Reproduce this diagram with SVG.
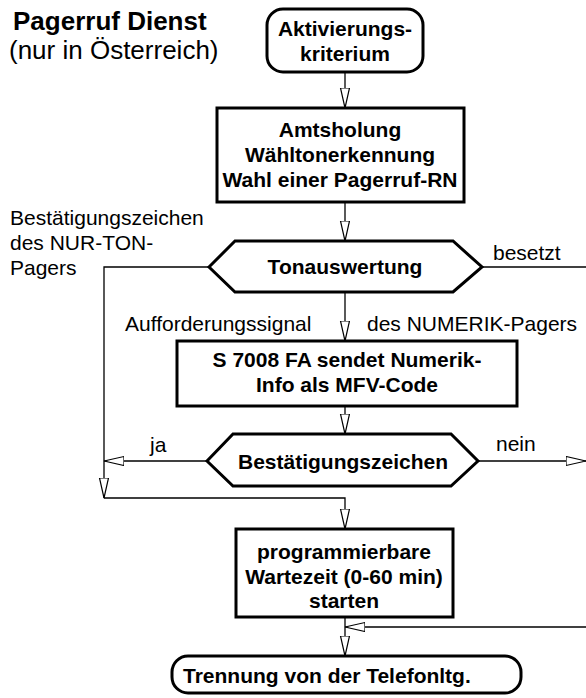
<svg xmlns="http://www.w3.org/2000/svg" width="586" height="698" viewBox="0 0 586 698">
<defs>
<marker id="ah" markerWidth="22" markerHeight="12" refX="20" refY="5" orient="auto" markerUnits="userSpaceOnUse">
<path d="M0,0.5 L20,5 L0,9.5 Z" fill="#fff" stroke="#000" stroke-width="1.2"/>
</marker>
<style>
.n{fill:#fff;stroke:#000;stroke-width:3}
.c{fill:none;stroke:#000;stroke-width:1.3}
.b{font-family:"Liberation Sans",Arial,sans-serif;font-weight:bold;font-size:21px;text-anchor:middle;fill:#000}
.t{font-family:"Liberation Sans",Arial,sans-serif;font-size:21px;fill:#000}
</style>
</defs>
<rect width="586" height="698" fill="#fff"/>
<g id="title">
<text x="13" y="30" class="t" style="font-weight:bold;font-size:26px">Pagerruf Dienst</text>
<text x="9" y="59" class="t" style="font-size:26px">(nur in Österreich)</text>
</g>
<g id="connectors">
<path class="c" d="M345,72 V108" marker-end="url(#ah)"/>
<path class="c" d="M345,202 V241" marker-end="url(#ah)"/>
<path class="c" d="M345,292 V341" marker-end="url(#ah)"/>
<path class="c" d="M345,406 V434" marker-end="url(#ah)"/>
<path class="c" d="M209,267 H104 V498" marker-end="url(#ah)"/>
<path class="c" d="M207,461 H104" marker-end="url(#ah)"/>
<path class="c" d="M104,498 H345 V529" marker-end="url(#ah)"/>
<path class="c" d="M482,267 H586"/>
<path class="c" d="M478,461 H586" marker-end="url(#ah)"/>
<path class="c" d="M345,617 V656" marker-end="url(#ah)"/>
<path class="c" d="M586,627 H345" marker-end="url(#ah)"/>
</g>
<g id="labels">
<text x="10" y="225" class="t">Bestätigungszeichen</text>
<text x="10" y="250" class="t">des NUR-TON-</text>
<text x="10" y="275" class="t">Pagers</text>
<text x="493" y="260" class="t">besetzt</text>
<text x="125" y="331" class="t">Aufforderungssignal</text>
<text x="367" y="331" class="t">des NUMERIK-Pagers</text>
<text x="150" y="452" class="t">ja</text>
<text x="496" y="451" class="t">nein</text>
</g>
<g id="start">
<rect class="n" x="267" y="9" width="156" height="63" rx="16"/>
<text class="b" x="345" y="36">Aktivierungs-</text>
<text class="b" x="345" y="61">kriterium</text>
</g>
<g id="amt">
<rect class="n" x="217" y="108" width="247" height="94"/>
<text class="b" x="340" y="137">Amtsholung</text>
<text class="b" x="340" y="162">Wähltonerkennung</text>
<text class="b" x="340" y="187">Wahl einer Pagerruf-RN</text>
</g>
<g id="ton">
<polygon class="n" points="209,267 235,241 453,241 482,267 453,292 235,292"/>
<text class="b" x="345" y="274">Tonauswertung</text>
</g>
<g id="numerik">
<rect class="n" x="177" y="341" width="340" height="65"/>
<text class="b" x="347" y="367">S 7008 FA sendet Numerik-</text>
<text class="b" x="347" y="392">Info als MFV-Code</text>
</g>
<g id="bestaetigung">
<polygon class="n" points="207,461 233,434 451,434 478,461 451,486 233,486"/>
<text class="b" x="343" y="469">Bestätigungszeichen</text>
</g>
<g id="warte">
<rect class="n" x="236" y="529" width="217" height="88"/>
<text class="b" x="344" y="559">programmierbare</text>
<text class="b" x="344" y="584">Wartezeit (0-60 min)</text>
<text class="b" x="344" y="608">starten</text>
</g>
<g id="ende">
<rect class="n" x="172" y="656" width="349" height="37" rx="16"/>
<text class="b" x="183" y="683" style="text-anchor:start">Trennung von der Telefonltg.</text>
</g>
</svg>
